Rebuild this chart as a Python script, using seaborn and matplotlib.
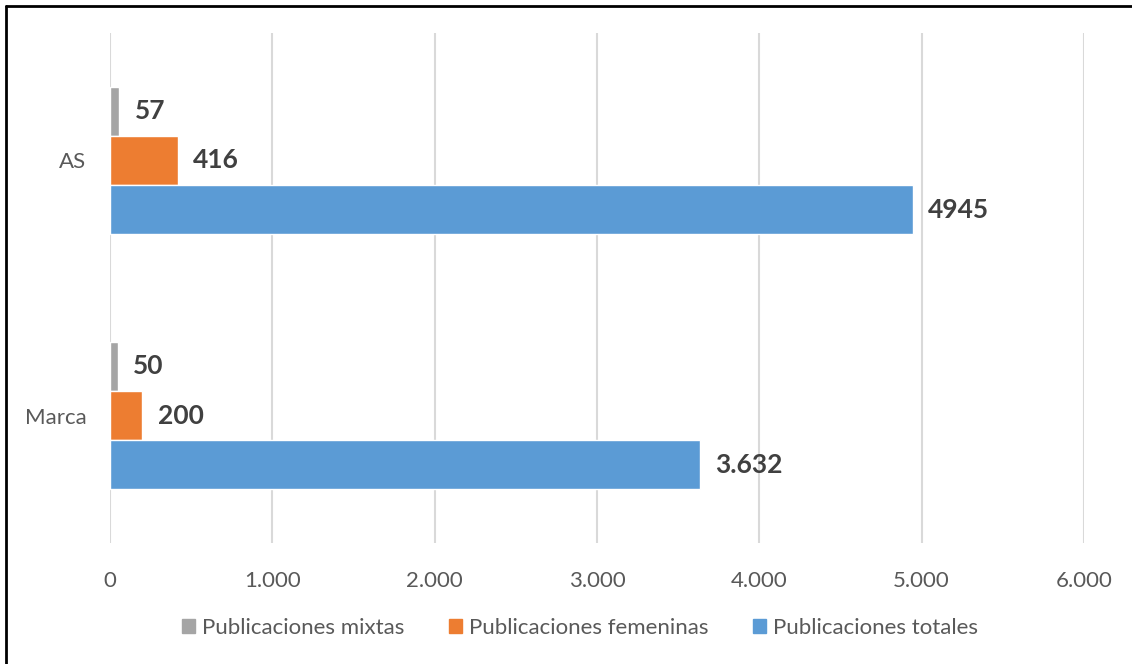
import matplotlib.pyplot as plt
from matplotlib.lines import Line2D
from matplotlib.ticker import FuncFormatter
import seaborn as sns
import pandas as pd

# Datos del gráfico
medios = ["AS", "Marca"]
series = ["Publicaciones mixtas", "Publicaciones femeninas", "Publicaciones totales"]
mixtas = [57, 50]
femeninas = [416, 200]
totales = [4945, 3632]
etiquetas = [["57", "50"], ["416", "200"], ["4945", "3.632"]]
colores = ["#A5A5A5", "#ED7D31", "#5B9BD5"]
xticks = [0, 1000, 2000, 3000, 4000, 5000, 6000]

df = pd.DataFrame({
    "medio": medios * 3,
    "serie": [s for s in series for _ in medios],
    "valor": mixtas + femeninas + totales,
})

sns.set_theme(style="white")
plt.rcParams['font.family'] = ['Lato', 'DejaVu Sans']

fig = plt.figure(figsize=(11.32, 6.64), dpi=100)
W, H = 1132, 664
ax = fig.add_axes([110 / W, 1 - 543 / H, (1084 - 110) / W, (543 - 33) / H])

sns.barplot(data=df, x="valor", y="medio", hue="serie", order=medios,
            hue_order=series, palette=colores, width=0.58, orient="h",
            saturation=1, ax=ax, legend=False)

for cont, labs in zip(ax.containers, etiquetas):
    ax.bar_label(cont, labels=labs, padding=11, fontsize=19,
                 fontweight="bold", color="#404040")

ax.set_xlim(0, 6000)
ax.set_xticks(xticks)
ax.xaxis.set_major_formatter(FuncFormatter(lambda v, p: f"{int(v):,}".replace(",", ".")))
ax.grid(axis="x", color="#D9D9D9", linewidth=1.5)
ax.set_axisbelow(True)
for s in ax.spines.values():
    s.set_visible(False)
ax.tick_params(axis="x", length=0, pad=20, labelsize=16, labelcolor="#595959")
ax.tick_params(axis="y", length=0, pad=17, labelsize=16, labelcolor="#595959")
ax.set_xlabel("")
ax.set_ylabel("")

handles = [plt.Rectangle((0, 0), 1, 1, color=c) for c in colores]
fig.legend(handles, series, loc="center", bbox_to_anchor=(580 / W, 1 - 628 / H),
           ncol=3, frameon=False, fontsize=16, handlelength=0.6, handleheight=0.6,
           handletextpad=0.3, columnspacing=2.0, labelcolor="#595959")

# marco exterior
fig.add_artist(Line2D([6 / W, 1], [1 - 6 / H, 1 - 6 / H], color="black", linewidth=2,
                      transform=fig.transFigure))
fig.add_artist(Line2D([6 / W, 6 / W], [0, 1 - 6 / H], color="black", linewidth=2,
                      transform=fig.transFigure))

fig.savefig("out.png", dpi=100, facecolor="white")
